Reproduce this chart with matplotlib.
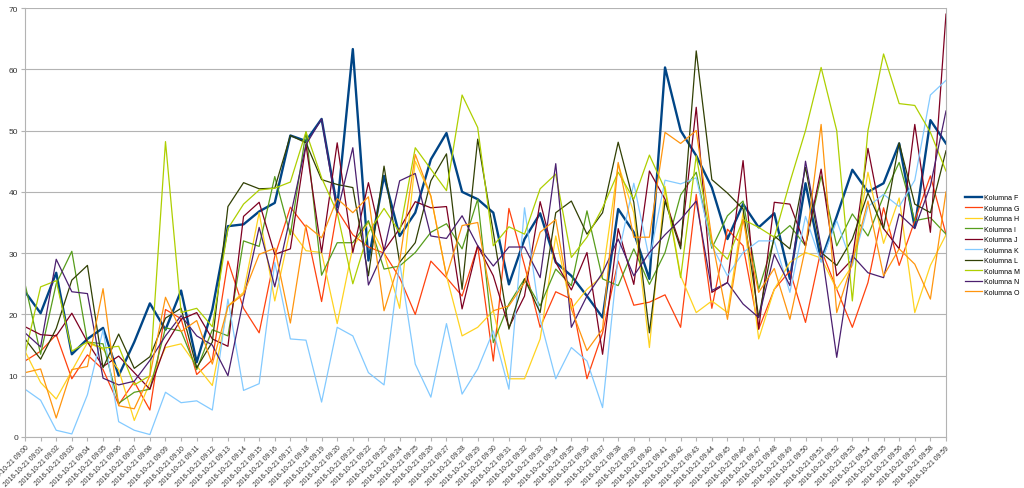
import numpy as np
import matplotlib
matplotlib.use("Agg")
import matplotlib.pyplot as plt

plt.rcParams['font.family'] = ['Liberation Sans', 'DejaVu Sans']

# x-axis labels: one per minute 09:00 .. 09:59
times = ["2016-10-21 09:%02d" % m for m in range(60)]

kolumna_f = [23.7, 20.2, 26.8, 13.5, 16, 17.8, 10, 15.5, 21.8, 17.5,
             23.9, 12.2, 20.8, 34.4, 34.7, 36.8, 38.2, 49.2, 48.3, 51.9,
             37.5, 63.3, 28.8, 42.6, 32.8, 36.6, 45.3, 49.6, 40, 38.8,
             36.6, 24.9, 32.3, 36.5, 28.5, 26.3, 23, 19.5, 37.2, 33.4,
             25.8, 60.3, 50, 45.9, 40.7, 32.3, 38, 34.2, 36.5, 25.8,
             41.4, 28.8, 36, 43.6, 40, 41.4, 47.9, 34.2, 51.7, 47.9]
kolumna_g = [12.4, 14, 16.7, 9.5, 13.4, 11, 5.3, 9, 4.4, 20.8,
             19.3, 10.2, 12.6, 28.7, 21, 17, 29.5, 37.5, 34.2, 22.1,
             37, 33, 31, 30, 26, 20, 28.7, 26, 23, 31.2,
             12.4, 37.3, 28, 17.9, 23.7, 22.5, 9.5, 17, 28.7, 21.5,
             22, 23.2, 17.9, 39.6, 21, 33.9, 31.2, 17.6, 24.1, 27.1,
             18.7, 30.6, 24.1, 17.9, 25.2, 37.4, 28, 35.3, 42.6, 33.1]
kolumna_h = [14, 8.9, 6.2, 10.8, 15.4, 14.3, 11, 2.7, 8.9, 14.6,
             15.2, 11.6, 8.4, 21.4, 23.6, 36.6, 22.2, 33.9, 30.4, 30.1,
             18.5, 31, 35, 30, 21, 45, 39.3, 26.3, 16.5, 17.9,
             20.6, 9.5, 9.5, 16, 32.8, 20.9, 24.1, 26.3, 44.5, 36.6,
             14.6, 40.9, 26.3, 20.3, 22.2, 20.3, 36.6, 16, 24.1, 28.5,
             30.1, 29.2, 24.1, 28, 43.2, 31.6, 39, 20.3, 28, 33]
kolumna_i = [25, 13.5, 25, 30.3, 15.5, 15.2, 5.5, 7.3, 7.8, 17.8,
             17.3, 11, 17.5, 16.5, 32, 31.1, 42.5, 33, 49.8, 26.4,
             31.7, 31.7, 35.3, 27.4, 27.9, 30.1, 33.4, 34.8, 30.7, 38.8,
             15.4, 21.7, 25.8, 21.4, 27.4, 24.7, 36.9, 25.8, 24.7, 30.7,
             24.9, 30.1, 39.5, 43.2, 30.8, 36.1, 38.5, 24.1, 32.3, 34.5,
             31.2, 42.6, 31.2, 36.4, 32.8, 39.3, 44.8, 35.3, 35.8, 33.1]
kolumna_j = [18, 16.7, 16.5, 20.2, 15.5, 11.5, 13.2, 10.5, 7.8, 15,
             19.2, 20.3, 16, 14.8, 36, 38.3, 29.8, 30.7, 47.7, 30.1,
             48, 30.1, 41.5, 30.4, 34, 38.4, 37.4, 37.6, 20.9, 31.2,
             26.3, 17.9, 23, 38.4, 28.5, 24, 30.1, 13.5, 34, 24.9,
             43.4, 38.8, 31.2, 53.8, 23.6, 25.2, 45.1, 17.6, 38.3, 38,
             31.2, 43.7, 26.3, 29, 47.1, 34, 30.7, 51, 33.4, 69]
kolumna_k = [7.8, 6, 1.1, 0.5, 6.9, 17.5, 2.5, 1.1, 0.4, 7.3,
             5.6, 5.9, 4.4, 22.5, 7.6, 8.7, 28.5, 16, 15.8, 5.7,
             17.9, 16.5, 10.5, 8.5, 28.5, 11.9, 6.5, 18.5, 7, 11.1,
             17.3, 7.8, 37.4, 19.2, 9.5, 14.6, 12.4, 4.8, 29.6, 41.4,
             29, 41.9, 41.3, 42.3, 31.2, 26.3, 30.1, 32, 32, 23.6,
             36, 28.5, 35.3, 28, 37.6, 39.6, 37.6, 41.9, 55.8, 58.2]
kolumna_l = [16, 12.7, 17.7, 25.6, 28, 11.3, 16.8, 11.2, 13.1, 19.4,
             21, 11.3, 15.5, 37.6, 41.5, 40.5, 40.6, 49.2, 48, 42,
             41.2, 40.7, 26.3, 44.2, 28.5, 31.7, 41.8, 46.2, 24.1, 48.6,
             33.4, 17.6, 25.8, 20.3, 36.6, 38.5, 33.1, 36.6, 48.1, 38.3,
             17, 38.5, 30.7, 63, 42, 39.8, 37.2, 19.5, 32.8, 30.7,
             44, 30.1, 28, 32.3, 39.8, 34, 48, 38, 36.6, 46.7]
kolumna_m = [13.5, 24.5, 25.5, 14, 15.5, 14.5, 14.8, 8.5, 10, 48.2,
             20.3, 21, 18, 34, 38, 40.3, 40.6, 41.6, 49.8, 42.3,
             36.6, 25, 33.4, 37.3, 33.4, 47.2, 43.7, 40.2, 55.8, 50.5,
             31.2, 34.3, 33.1, 40.5, 42.9, 29.3, 32.6, 37.4, 43.2, 38.8,
             46, 40.4, 26, 45.9, 31.6, 29, 35.5, 34.2, 32.6, 41.6,
             50, 60.3, 50, 22.2, 50, 62.5, 54.4, 54.1, 49.7, 43.4]
kolumna_n = [17, 14.7, 29, 23.7, 23.4, 9.6, 8.5, 9.1, 12.5, 16.5,
             19.8, 16.5, 15, 10, 22.5, 34.2, 24.5, 36, 47.7, 51.9,
             36.6, 47.2, 24.8, 30.4, 41.8, 43, 32.8, 32.4, 36.1, 31.2,
             27.9, 31, 31, 26, 44.6, 17.9, 23, 26.8, 32.3, 26.3,
             30.1, 33, 35.5, 38.5, 23.9, 25.2, 21.7, 19.5, 29.8, 24.7,
             45, 31, 13, 29.6, 26.8, 26, 36.4, 34, 41, 53.2]
kolumna_o = [10.5, 11.1, 3.1, 11, 11.5, 24.2, 5.1, 4.6, 10, 22.8,
             17.2, 19, 11.9, 21.3, 23.3, 29.8, 30.8, 18.6, 34.6, 32.5,
             38.9, 36.6, 39.2, 20.6, 28.7, 46.1, 39.3, 26.3, 34.5, 35,
             20.6, 21.4, 25.2, 33.4, 35.5, 20.9, 14.1, 17.6, 44.8, 32.6,
             32.6, 49.7, 47.9, 50, 32.3, 19.2, 35.5, 23.6, 27.5, 19.2,
             30.9, 51, 20.3, 28.5, 38.5, 26.3, 30.7, 28.2, 22.5, 40]

series = [
    ("Kolumna F", kolumna_f, "#004586", 1.7),
    ("Kolumna G", kolumna_g, "#ff420e", 0.9),
    ("Kolumna H", kolumna_h, "#ffd320", 0.9),
    ("Kolumna I", kolumna_i, "#579d1c", 0.9),
    ("Kolumna J", kolumna_j, "#7e0021", 0.9),
    ("Kolumna K", kolumna_k, "#83caff", 0.9),
    ("Kolumna L", kolumna_l, "#314004", 0.9),
    ("Kolumna M", kolumna_m, "#aecf00", 0.9),
    ("Kolumna N", kolumna_n, "#4b1f6f", 0.9),
    ("Kolumna O", kolumna_o, "#ff950e", 0.9),
]

fig = plt.figure(figsize=(10.24, 4.89), dpi=100)
ax = fig.add_axes([25 / 1024, 51 / 489, 921 / 1024, 429 / 489])

x = np.arange(len(times))
for name, vals, col, lw in series:
    ax.plot(x, vals, color=col, linewidth=lw, label=name)

ax.set_xlim(0, len(times) - 1)
ax.set_ylim(0, 70)
ax.set_yticks(range(0, 71, 10))
ax.yaxis.grid(True, color="#b3b3b3", linewidth=0.8)
ax.set_axisbelow(True)

ax.spines["top"].set_visible(False)
for side in ["left", "bottom", "right"]:
    ax.spines[side].set_color("#b3b3b3")
    ax.spines[side].set_linewidth(0.8)

ax.set_xticks(x)
ax.set_xticklabels(times, rotation=45, ha="right", va="top",
                   rotation_mode="anchor", fontsize=4.9, color="#333333")
ax.tick_params(axis="x", length=3, color="#b3b3b3", pad=2)
ax.tick_params(axis="y", length=3, color="#b3b3b3", labelsize=6,
               labelcolor="#333333", pad=2)

fig.legend(loc="center left", bbox_to_anchor=(962 / 1024, 0.497),
           frameon=False, fontsize=5, handlelength=2.4, handletextpad=0.3,
           labelspacing=0.5, borderpad=0)

plt.savefig("out.png", dpi=100)
